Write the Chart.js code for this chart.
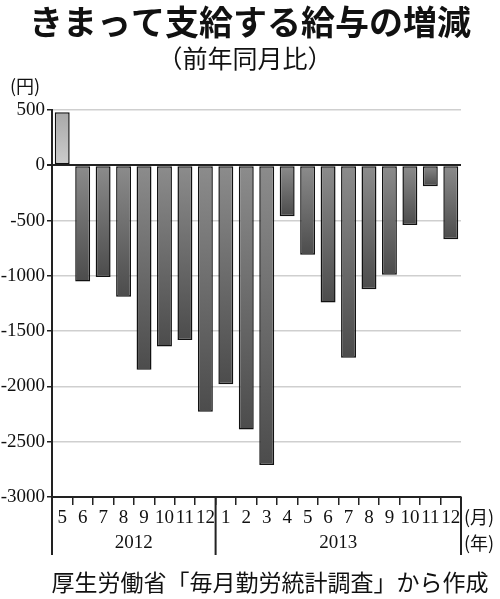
<!DOCTYPE html>
<html>
<head>
<meta charset="utf-8">
<script src="https://cdn.jsdelivr.net/npm/chart.js@4"></script>
<style>
  body { margin: 0; background: #fff; }
</style>
</head>
<body>
<canvas id="wageChart" width="500" height="599"></canvas>
<script>
// 月ラベルと年
const months = ['5', '6', '7', '8', '9', '10', '11', '12', '1', '2', '3', '4', '5', '6', '7', '8', '9', '10', '11', '12'];
const years = ['2012', '2013'];
const yearStart = [0, 8];
// 前年同月比の増減（円）
const changes = [480, -1050, -1010, -1190, -1850, -1640, -1580, -2230, -1980, -2390, -2710, -460, -810, -1240, -1740, -1120, -990, -540, -190, -670];
const yTicks = [500, 0, -500, -1000, -1500, -2000, -2500, -3000];

const JP = '"Noto Sans CJK JP", sans-serif';
const NUM = '"Liberation Serif", serif';

function barFill(c) {
    const chart = c.chart;
    if (!chart.chartArea) return '#777';
    const y = chart.scales.y;
    const v = c.raw;
    const y0 = y.getPixelForValue(0), y1 = y.getPixelForValue(v);
    const g = chart.ctx.createLinearGradient(0, Math.min(y0, y1), 0, Math.max(y0, y1));
    if (v >= 0) {
        g.addColorStop(0, '#a8a8a8');
        g.addColorStop(1, '#cdcdcd');
    } else {
        g.addColorStop(0, '#8c8c8c');
        g.addColorStop(1, '#4c4c4c');
    }
    return g;
}

// タイトル・注記・年の区切り
const decorations = {
    id: 'decorations',
    afterDraw(chart) {
        const c = chart.ctx;
        const area = chart.chartArea;
        const x = chart.scales.x;
        c.save();
        c.fillStyle = '#111';
        c.textAlign = 'center';
        c.textBaseline = 'middle';
        c.font = 'bold 34px ' + JP;
        c.fillText('きまって支給する給与の増減', 250, 22);
        c.font = '25px ' + JP;
        c.fillText('（前年同月比）', 245, 58);
        c.font = '18px ' + JP;
        c.fillText('(円)', 25, 86);
        c.fillText('(月)', 479, 517);
        c.fillText('(年)', 479, 543);
        c.font = '23px ' + JP;
        c.fillText('厚生労働省「毎月勤労統計調査」から作成', 270, 582);

        // 年の区切り線
        c.strokeStyle = '#222';
        c.lineWidth = 2;
        const bounds = [area.left];
        for (let i = 1; i < yearStart.length; i++) {
            bounds.push((x.getPixelForValue(yearStart[i] - 1) + x.getPixelForValue(yearStart[i])) / 2);
        }
        bounds.push(area.right);
        c.beginPath();
        bounds.forEach(b => {
            c.moveTo(b, area.bottom);
            c.lineTo(b, area.bottom + 58);
        });
        c.stroke();
        c.font = '19px ' + NUM;
        years.forEach((yr, i) => {
            c.fillText(yr, (bounds[i] + bounds[i + 1]) / 2, 543);
        });
        c.restore();
    }
};

new Chart(document.getElementById('wageChart'), {
    type: 'bar',
    data: {
        labels: months,
        datasets: [{
            data: changes,
            backgroundColor: barFill,
            borderColor: '#111',
            borderWidth: 1.5,
            borderSkipped: false,
            categoryPercentage: 1,
            barPercentage: 0.73
        }]
    },
    options: {
        responsive: false,
        animation: false,
        layout: { padding: { top: 110, left: 0, right: 39, bottom: 44 } },
        plugins: {
            legend: { display: false },
            tooltip: { enabled: false }
        },
        scales: {
            x: {
                afterFit: s => { s.height = 58; },
                grid: {
                    offset: true,
                    drawOnChartArea: false,
                    color: '#222',
                    lineWidth: 1.5,
                    tickLength: 8
                },
                border: { color: '#222', width: 2 },
                ticks: {
                    color: '#111',
                    font: { family: NUM, size: 19 },
                    padding: 2,
                    maxRotation: 0,
                    autoSkip: false
                }
            },
            y: {
                min: -3000,
                max: 500,
                afterFit: s => { s.width = 52; },
                afterBuildTicks: s => { s.ticks = yTicks.map(v => ({ value: v })); },
                grid: {
                    color: c => c.tick && c.tick.value === 0 ? '#222' : '#cfcfcf',
                    lineWidth: c => c.tick && c.tick.value === 0 ? 2 : 1.5,
                    tickColor: '#222',
                    tickLength: 5
                },
                border: { color: '#222', width: 2 },
                ticks: {
                    color: '#111',
                    font: { family: NUM, size: 19 },
                    padding: 2,
                    callback: v => String(v)
                }
            }
        }
    },
    plugins: [decorations]
});
</script>
</body>
</html>
